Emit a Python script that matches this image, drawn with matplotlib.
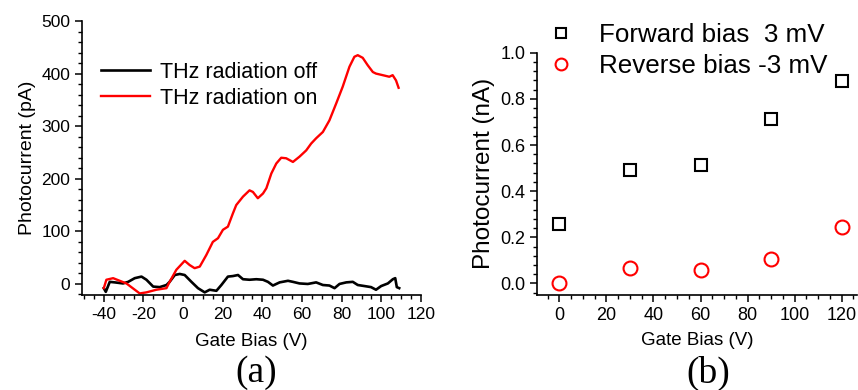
import matplotlib
matplotlib.use("Agg")
import matplotlib.pyplot as plt
from matplotlib.ticker import MultipleLocator

# ---- Panel (a) data ----
off_x = [-40, -39, -37, -34.5, -30.3, -27.7, -24.4, -21, -18.5, -15.1, -11.8, -8.4, -6.8, -4.2,
         -1.7, 0.8, 4.2, 7.5, 10.9, 13.4, 16.8, 19.3, 22.6, 25.1, 27.7, 30.2, 33.5, 36.9, 40.3,
         42.8, 45.3, 48.7, 52.9, 55.4, 58.7, 62.9, 67.1, 70.5, 73.8, 76.4, 78.9, 82.3, 85.6,
         88.1, 91.5, 94.8, 97.3, 99.9, 103.3, 105.8, 107, 107.8, 109]
off_y = [-8, -15, 4, 3, 1, 4, 11, 14, 8, -5, -6, -2, 4, 17,
         19, 17, 4, -8, -16, -11, -13, -2, 14, 15, 17, 9, 8, 9, 8,
         4, -3, 3, 6, 4, 1, 0, 3, -2, -3, -8, 0, 3, 4,
         -2, -4, -6, -11, -4, 1, 9, 11, -6, -8]

on_x = [-40, -38.7, -35.3, -28.6, -21.9, -18.5, -13.5, -8.4, -6.8, -3.4, 0.8, 3.3, 5.8, 8.4,
        11.7, 15, 17.6, 20.1, 22.6, 25.1, 26.8, 30.2, 33.5, 35.2, 37.7, 40.3, 42, 44.5, 47,
        49.5, 52, 55.4, 58.7, 62.1, 64.6, 67.1, 70.5, 73.8, 77.2, 80.5, 83.9, 86.4, 88.1,
        90.6, 93.1, 95.7, 97.3, 100.7, 104, 105.7, 107.4, 108.7]
on_y = [-8, 8, 11, 1, -18, -16, -11, -8, 4, 27, 44, 36, 30, 33,
        55, 80, 87, 103, 109, 134, 150, 166, 178, 175, 163, 172, 182, 210, 229,
        240, 239, 232, 242, 254, 267, 277, 289, 311, 343, 375, 413, 432, 435,
        430, 416, 403, 400, 397, 394, 397, 387, 373]

# ---- Panel (b) data ----
gate_b = [0, 30, 60, 90, 120]
forward = [0.257, 0.491, 0.513, 0.711, 0.877]
reverse = [0.004, 0.065, 0.058, 0.108, 0.246]

plt.rcParams['font.family'] = ['Liberation Sans', 'DejaVu Sans']
plt.rcParams['axes.unicode_minus'] = False

W, H = 858, 390
fig = plt.figure(figsize=(W / 100, H / 100), dpi=100)

def style(ax):
    for s in ['top', 'right']:
        ax.spines[s].set_visible(False)
    for s in ['left', 'bottom']:
        ax.spines[s].set_linewidth(1.2)
    ax.tick_params(which='major', direction='out', length=5, width=1.1)
    ax.tick_params(which='minor', direction='out', length=3, width=1.0)

# Panel (a)
ax1 = fig.add_axes([82 / W, 1 - 295 / H, 339 / W, 274 / H])
ax1.plot(off_x, off_y, color='black', lw=1.9, label='THz radiation off')
ax1.plot(on_x, on_y, color='#ff0000', lw=1.7, label='THz radiation on')
ax1.set_xlim(-51, 120)
ax1.set_ylim(-21, 500)
ax1.xaxis.set_minor_locator(MultipleLocator(5))
ax1.yaxis.set_major_locator(MultipleLocator(100))
ax1.yaxis.set_minor_locator(MultipleLocator(20))
ax1.set_xticks(range(-40, 121, 20))
style(ax1)
ax1.tick_params(labelsize=12.5)
ax1.set_xlabel('Gate Bias (V)', fontsize=13.5, labelpad=8)
ax1.set_ylabel('Photocurrent (pA)', fontsize=14, labelpad=4)
ax1.legend(loc='upper left', bbox_to_anchor=(0.0235, 0.89), frameon=False, fontsize=15.5,
           handlelength=2.3, handletextpad=0.45, labelspacing=0.22, borderpad=0)

# Panel (b)
ax2 = fig.add_axes([537 / W, 1 - 295 / H, 320 / W, 242.3 / H])
ax2.plot(gate_b, forward, ls='none', marker='s', ms=9, mfc='none', mec='black', mew=1.5,
         label='Forward bias  3 mV')
ax2.plot(gate_b, reverse, ls='none', marker='o', ms=10, mfc='none', mec='#ff0000', mew=1.5,
         label='Reverse bias -3 mV')
ax2.set_xlim(-9.5, 126.5)
ax2.set_ylim(-0.05, 1.0)
ax2.xaxis.set_minor_locator(MultipleLocator(5))
ax2.yaxis.set_minor_locator(MultipleLocator(0.04))
ax2.set_xticks(range(0, 121, 20))
ax2.set_yticks([0.0, 0.2, 0.4, 0.6, 0.8, 1.0])
ax2.set_yticklabels(['0.0', '0.2', '0.4', '0.6', '0.8', '1.0'])
style(ax2)
ax2.tick_params(labelsize=13)
ax2.set_xlabel('Gate Bias (V)', fontsize=13.5, labelpad=6)
ax2.set_ylabel('Photocurrent (nA)', fontsize=17.5, labelpad=4)
ax2.legend(loc='upper left', bbox_to_anchor=(-0.005, 1.175), frameon=False, fontsize=18.7,
           markerscale=0.85, handlelength=1.0, handletextpad=0.95, labelspacing=0.27,
           borderpad=0)

fig.text(256 / W, 1 - 373 / H, '(a)', fontsize=27, family='Liberation Serif',
         ha='center', va='center')
fig.text(708 / W, 1 - 373 / H, '(b)', fontsize=27, family='Liberation Serif',
         ha='center', va='center')

fig.savefig('out.png', dpi=100)
